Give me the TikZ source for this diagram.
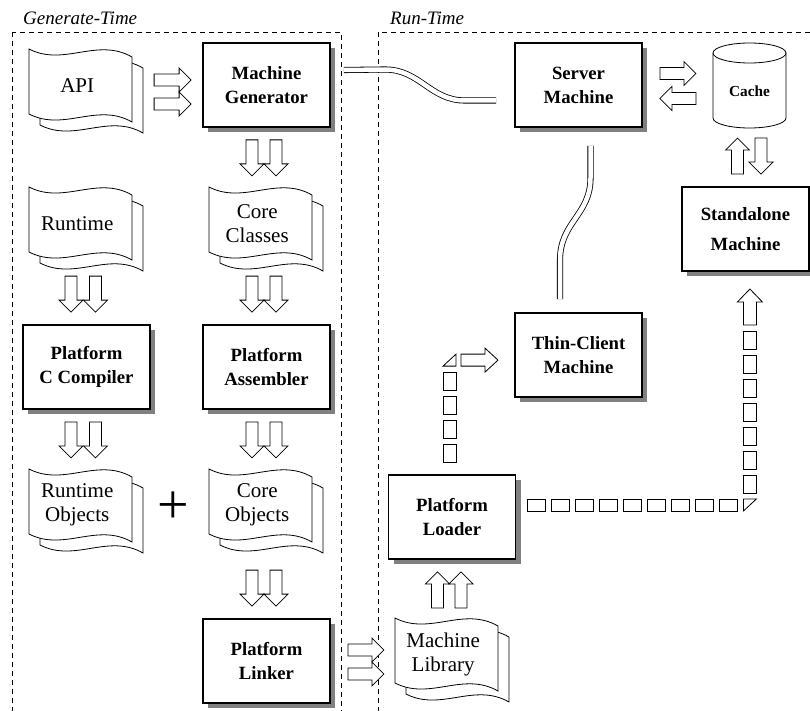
\documentclass[tikz,border=0pt]{standalone}
\usepackage{fontspec}
\setmainfont{Liberation Serif}
\usetikzlibrary{calc,shadows}
\pgfdeclarelayer{background}
\pgfsetlayers{background,main}
\tikzset{
  proc/.style={draw, line width=1.8pt, fill=white, minimum width=127pt, minimum height=84pt,
    inner sep=0pt, align=center, font=\fontsize{18.7pt}{24pt}\selectfont\bfseries,
    drop shadow={shadow xshift=5pt, shadow yshift=-5pt, fill=black!50, opacity=1}},
  doc/.style={minimum width=96pt, minimum height=72pt, inner sep=0pt, anchor=north west,
    align=center, font=\fontsize{21pt}{24pt}\selectfont},
  docline/.style={draw, fill=white, line width=0.8pt},
  region/.style={draw, line width=0.8pt, dash pattern=on 5pt off 4pt},
  hdr/.style={font=\fontsize{19pt}{22pt}\selectfont\itshape, anchor=base west, inner sep=0pt},
  barrowline/.style={draw, fill=white, line width=0.8pt, line join=miter},
  wire/.style={double, double distance=4.5pt, line width=0.8pt},
  dsq/.style={draw, fill=white, line width=0.8pt},
}
\newcommand\docshape[1]{%
  \begin{pgfonlayer}{background}
  \begin{scope}[shift={(#1.north west)}]
    \draw[docline] (11,11) .. controls (46,29) and (79,-1) .. (114,19) -- (114,84)
      .. controls (79,64) and (46,94) .. (11,76) -- cycle;
    \draw[docline] (0,0) .. controls (35,18) and (68,-12) .. (103,8) -- (103,73)
      .. controls (68,53) and (35,83) .. (0,65) -- cycle;
  \end{scope}
  \end{pgfonlayer}}
\newcommand\blockarrow[2]{%
  \path (#1) coordinate (bas) (#2) coordinate (bae);
  \path ($(bae)!12pt!(bas)$) coordinate (bah);
  \draw[barrowline] ($(bas)!6pt!90:(bae)$) -- ($(bah)!6pt!90:(bae)$) -- ($(bah)!12pt!90:(bae)$)
    -- (bae) -- ($(bah)!12pt!-90:(bae)$) -- ($(bah)!6pt!-90:(bae)$) -- ($(bas)!6pt!-90:(bae)$) -- cycle;}
\begin{document}
\begin{tikzpicture}[x=1pt,y=-1pt]
\useasboundingbox (0,0) rectangle (810,711);
% regions
\draw[region] (12,32) rectangle (341,740);
\draw[region] (378,32) rectangle (840,740);
\node[hdr] (gt) at (23,25) {Generate-Time};
\node[hdr] (rt) at (390,25) {Run-Time};
% process boxes
\node[proc] (mg) at (266.5,85) {Machine\\Generator};
\node[proc] (server) at (578.5,85) {Server\\Machine};
\node[proc] (cc) at (86.5,367) {Platform\\C Compiler};
\node[proc] (asm) at (266.5,367) {Platform\\Assembler};
\node[proc] (linker) at (266.5,661) {Platform\\Linker};
\node[proc] (loader) at (452,517) {Platform\\Loader};
\node[proc] (thin) at (578.5,355) {Thin-Client\\Machine};
\node[proc] (standalone) at (745.5,229) {Standalone\\[6pt]Machine};
% documents
\node[doc] (api) at (29,49) {API};
\node[doc] (runtime) at (29,187) {Runtime};
\node[doc] (classes) at (209,187) {Core\\Classes};
\node[doc] (robj) at (29,469) {Runtime\\Objects};
\node[doc] (cobj) at (209,469) {Core\\Objects};
\node[doc] (mlib) at (395,618) {Machine\\Library};
\docshape{api}\docshape{runtime}\docshape{classes}\docshape{robj}\docshape{cobj}\docshape{mlib}
% cache
\node[font=\fontsize{15.3pt}{18pt}\selectfont\bfseries, minimum width=73pt, minimum height=85pt, inner sep=0pt] (cache) at (749.5,91) {Cache};
\begin{pgfonlayer}{background}
\begin{scope}[shift={(cache.center)}]
  \draw[docline] (-36.5,-38) -- (-36.5,27) arc[start angle=180, end angle=360, x radius=36.5pt, y radius=10pt] -- (36.5,-38);
  \draw[docline] (0,-38) ellipse [x radius=36.5pt, y radius=10pt];
\end{scope}
\end{pgfonlayer}
% plus
\node[font=\fontsize{56pt}{60pt}\selectfont, inner sep=0pt] (plus) at (173,508) {+};
% block arrows
\blockarrow{$(mg.west)+(-48,-5)$}{$(mg.west)+(-11,-5)$}
\blockarrow{$(mg.west)+(-48,19)$}{$(mg.west)+(-11,19)$}
\blockarrow{$(mg.south)+(-14.5,12)$}{$(mg.south)+(-14.5,48)$}
\blockarrow{$(mg.south)+(9.5,12)$}{$(mg.south)+(9.5,48)$}
\blockarrow{$(cc.north)+(-15.5,-48)$}{$(cc.north)+(-15.5,-12)$}
\blockarrow{$(cc.north)+(9,-48)$}{$(cc.north)+(9,-12)$}
\blockarrow{$(asm.north)+(-14.5,-48)$}{$(asm.north)+(-14.5,-12)$}
\blockarrow{$(asm.north)+(9.5,-48)$}{$(asm.north)+(9.5,-12)$}
\blockarrow{$(cc.south)+(-15.5,12)$}{$(cc.south)+(-15.5,48)$}
\blockarrow{$(cc.south)+(9,12)$}{$(cc.south)+(9,48)$}
\blockarrow{$(asm.south)+(-14.5,12)$}{$(asm.south)+(-14.5,48)$}
\blockarrow{$(asm.south)+(9.5,12)$}{$(asm.south)+(9.5,48)$}
\blockarrow{$(linker.north)+(-14.5,-48)$}{$(linker.north)+(-14.5,-12)$}
\blockarrow{$(linker.north)+(9.5,-48)$}{$(linker.north)+(9.5,-12)$}
\blockarrow{$(linker.east)+(17,-11)$}{$(linker.east)+(53,-11)$}
\blockarrow{$(linker.east)+(17,13)$}{$(linker.east)+(53,13)$}
\blockarrow{$(loader.south)+(-14.5,48)$}{$(loader.south)+(-14.5,12)$}
\blockarrow{$(loader.south)+(9,48)$}{$(loader.south)+(9,12)$}
\blockarrow{$(server.east)+(17,-11.5)$}{$(server.east)+(53,-11.5)$}
\blockarrow{$(server.east)+(53,13.5)$}{$(server.east)+(17,13.5)$}
\blockarrow{$(standalone.north)+(-8,-12)$}{$(standalone.north)+(-8,-48)$}
\blockarrow{$(standalone.north)+(15.5,-48)$}{$(standalone.north)+(15.5,-12)$}
% dashed block connector: loader -> thin-client
\begin{scope}[shift={(loader.north)}]
  \foreach \j in {0,...,3} \draw[dsq] (-9,{-30-24*\j}) rectangle (4,{-12-24*\j});
  \draw[dsq] (-9,-108) -- (4,-108) -- (4,-120) -- cycle;
  \draw[barrowline] (9,-120) -- (33,-120) -- (33,-126) -- (46,-114) -- (33,-102) -- (33,-108) -- (9,-108) -- cycle;
\end{scope}
% dashed block connector: loader -> standalone
\begin{scope}[shift={(loader.east)}]
  \foreach \i in {0,...,8} \draw[dsq] ({11+24*\i},-18) rectangle ({29+24*\i},-6);
  \draw[dsq] (227,-18) -- (240,-18) -- (227,-6) -- cycle;
  \foreach \j in {0,...,6} \draw[dsq] (227,{-42-24*\j}) rectangle (240,{-24-24*\j});
  \draw[barrowline] (227,-192) -- (227,-215) -- (221,-215) -- (233.5,-228) -- (246,-215) -- (240,-215) -- (240,-192) -- cycle;
\end{scope}
% wires
\draw[wire] ($(mg.east)+(13,-15)$) -- (385,69.5) .. controls (420,69.5) and (430,100.5) .. (465,100.5) -- ($(server.west)+(-18,15.5)$);
\draw[wire] ($(server.south)+(12,18)$) -- (590.5,178) .. controls (590.5,215) and (560,222) .. (560,260) -- ($(thin.north)+(-18.5,-13)$);
\end{tikzpicture}
\end{document}
